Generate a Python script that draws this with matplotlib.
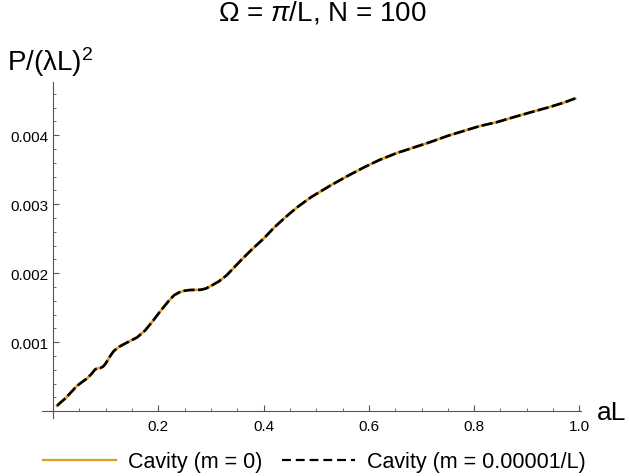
import matplotlib.pyplot as plt
from matplotlib.lines import Line2D

plt.rcParams['font.family'] = ['Liberation Sans', 'DejaVu Sans']
plt.rcParams['mathtext.fontset'] = 'custom'
plt.rcParams['mathtext.rm'] = 'Liberation Sans'
plt.rcParams['mathtext.it'] = 'Liberation Sans:italic'

# aL values and power P/(lambda L)^2 (in units of 1e-3)
aL = [0.0076, 0.015, 0.0234, 0.035, 0.0456, 0.055, 0.0646, 0.072, 0.080,
      0.085, 0.090, 0.095, 0.100, 0.107, 0.115, 0.125, 0.137, 0.150, 0.160,
      0.175, 0.190, 0.205, 0.220, 0.230, 0.240, 0.250, 0.260, 0.270, 0.280,
      0.290, 0.300, 0.315, 0.330, 0.345, 0.360, 0.377, 0.400, 0.420, 0.440,
      0.463, 0.490, 0.527, 0.560, 0.590, 0.620, 0.653, 0.685, 0.717, 0.750,
      0.780, 0.810, 0.844, 0.875, 0.907, 0.940, 0.970, 0.992]
p_m0 = [0.077, 0.130, 0.184, 0.280, 0.367, 0.420, 0.474, 0.530, 0.605,
        0.622, 0.625, 0.645, 0.690, 0.780, 0.868, 0.930, 0.980, 1.030, 1.070,
        1.170, 1.310, 1.460, 1.600, 1.680, 1.722, 1.745, 1.755, 1.757, 1.758,
        1.775, 1.815, 1.880, 1.970, 2.090, 2.210, 2.338, 2.500, 2.660, 2.800,
        2.950, 3.100, 3.270, 3.410, 3.530, 3.640, 3.740, 3.820, 3.900, 3.990,
        4.060, 4.130, 4.190, 4.260, 4.330, 4.400, 4.470, 4.532]
p_m0 = [v * 1e-3 for v in p_m0]
# tiny mass gives the same curve
p_m1 = list(p_m0)

yticks = [0.001, 0.002, 0.003, 0.004]
xticks = [0.2, 0.4, 0.6, 0.8, 1.0]

orange = '#E19C24'

fig = plt.figure(figsize=(6.29, 4.77), dpi=100)
W, H = 629, 477
ax = fig.add_axes([42 / W, 1 - 419 / H, 539 / W, 336 / H])
ax.set_xlim(-0.021, 1.003)
ax.set_ylim(-0.0001, 0.00477)

ax.plot(aL, p_m0, color=orange, lw=1.9, solid_joinstyle='round')
ax.plot(aL, p_m1, color='black', lw=1.9, dashes=(4.2, 1.3),
        dash_joinstyle='round')

for s in ['top', 'right']:
    ax.spines[s].set_visible(False)
ax.spines['left'].set_position(('data', 0))
ax.spines['bottom'].set_position(('data', 0))
for s in ['left', 'bottom']:
    ax.spines[s].set_color('#555555')
    ax.spines[s].set_linewidth(0.8)

ax.set_xticks(xticks)
ax.set_xticklabels(['0.2', '0.4', '0.6', '0.8', '1.0'])
ax.set_yticks(yticks)
ax.set_yticklabels(['0.001', '0.002', '0.003', '0.004'])
ax.set_xticks([i * 0.05 for i in range(1, 20)], minor=True)
ax.set_yticks([i * 0.0002 for i in range(1, 24)], minor=True)
ax.tick_params(which='major', direction='in', length=4, width=0.8,
               color='#555555', labelsize=11, pad=3)
ax.tick_params(axis='x', which='major', pad=6)
ax.tick_params(which='minor', direction='in', length=2.5, width=0.6,
               color='#555555')

fig.text(0.512, 1 - 13 / H, r'Ω = $\mathit{\pi}$/L, N = 100', ha='center',
         va='center', fontsize=20)
fig.text(7 / W, 1 - 62 / H, r'P/(λL)$^2$', ha='left', va='center',
         fontsize=20)
fig.text(597 / W, 1 - 413 / H, 'aL', ha='left', va='center', fontsize=19)

handles = [Line2D([], [], color=orange, lw=1.6),
           Line2D([], [], color='black', lw=1.6, dashes=(4, 2.2))]
fig.legend(handles, ['Cavity (m = 0)', 'Cavity (m = 0.00001/L)'],
           loc='center', bbox_to_anchor=(0.5, 1 - 463 / H), ncol=2,
           frameon=False, fontsize=15.5, handlelength=3.4, handletextpad=0.55,
           columnspacing=0.9)

fig.savefig('out.png', dpi=100)
